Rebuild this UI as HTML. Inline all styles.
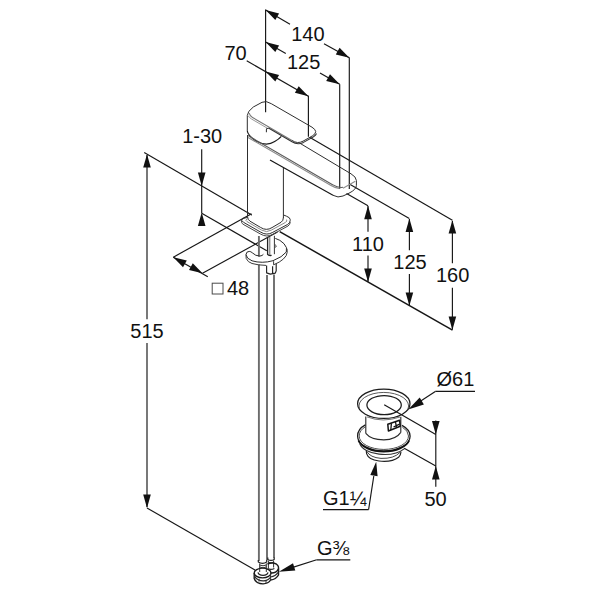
<!DOCTYPE html>
<html><head><meta charset="utf-8"><title>Faucet dimensions</title>
<style>
html,body{margin:0;padding:0;background:#fff;}
body{width:600px;height:600px;overflow:hidden;font-family:"Liberation Sans",sans-serif;}
svg{display:block;}
svg text{font-family:"Liberation Sans",sans-serif;fill:#111;}
svg path{stroke-linecap:butt;stroke-linejoin:round;}
</style></head><body>
<svg width="600" height="600" viewBox="0 0 600 600">
<rect width="600" height="600" fill="#fff"/>
<path d="M265.6 9.5L265.6 112.3" fill="none" stroke="#161616" stroke-width="1.15"/>
<path d="M349.3 57.5L349.3 189.0" fill="none" stroke="#161616" stroke-width="1.15"/>
<path d="M339.7 84.2L339.7 188.7" fill="none" stroke="#161616" stroke-width="1.15"/>
<path d="M308.4 95.8L308.4 136.7" fill="none" stroke="#161616" stroke-width="1.15"/>
<path d="M265.6 10.0L290.0 24.3" fill="none" stroke="#161616" stroke-width="1.15"/>
<path d="M265.6 10.0L279.1 13.4L275.3 20.0Z" fill="#111" stroke="none"/>
<path d="M324.0 43.7L349.3 57.8" fill="none" stroke="#161616" stroke-width="1.15"/>
<path d="M349.3 57.8L335.8 54.4L339.6 47.8Z" fill="#111" stroke="none"/>
<text x="291.2" y="40.8" font-size="20" text-anchor="start">140</text>
<path d="M265.6 42.0L285.8 53.5" fill="none" stroke="#161616" stroke-width="1.15"/>
<path d="M265.6 42.0L279.1 45.4L275.3 52.0Z" fill="#111" stroke="none"/>
<path d="M320.0 73.0L339.7 84.3" fill="none" stroke="#161616" stroke-width="1.15"/>
<path d="M339.7 84.3L326.2 80.9L330.0 74.3Z" fill="#111" stroke="none"/>
<text x="287.0" y="69.2" font-size="20" text-anchor="start">125</text>
<path d="M246.7 60.8L308.4 96.2" fill="none" stroke="#161616" stroke-width="1.15"/>
<path d="M265.6 71.6L279.1 75.0L275.3 81.6Z" fill="#111" stroke="none"/>
<path d="M308.4 96.2L294.9 92.8L298.7 86.2Z" fill="#111" stroke="none"/>
<text x="224.5" y="60.3" font-size="20" text-anchor="start">70</text>
<path d="M310.0 137.5L452.4 220.2" fill="none" stroke="#161616" stroke-width="1.15"/>
<path d="M349.3 184.0L409.3 218.6" fill="none" stroke="#161616" stroke-width="1.15"/>
<path d="M346.5 193.6L368.0 205.8" fill="none" stroke="#161616" stroke-width="1.15"/>
<path d="M279.7 231.6L452.5 330.2" fill="none" stroke="#161616" stroke-width="1.5"/>
<path d="M368.0 206.0L368.0 231.7" fill="none" stroke="#161616" stroke-width="1.15"/>
<path d="M368.0 255.5L368.0 281.8" fill="none" stroke="#161616" stroke-width="1.15"/>
<path d="M368.0 205.8L371.8 219.2L364.2 219.2Z" fill="#111" stroke="none"/>
<path d="M368.0 282.0L364.2 268.6L371.8 268.6Z" fill="#111" stroke="none"/>
<text x="368.0" y="250.8" font-size="20" text-anchor="middle">110</text>
<path d="M409.4 219.0L409.4 250.3" fill="none" stroke="#161616" stroke-width="1.15"/>
<path d="M409.4 274.0L409.4 305.5" fill="none" stroke="#161616" stroke-width="1.15"/>
<path d="M409.4 218.6L413.2 232.0L405.6 232.0Z" fill="#111" stroke="none"/>
<path d="M409.4 305.8L405.6 292.4L413.2 292.4Z" fill="#111" stroke="none"/>
<text x="410.0" y="269.0" font-size="20" text-anchor="middle">125</text>
<path d="M452.4 221.0L452.4 263.2" fill="none" stroke="#161616" stroke-width="1.15"/>
<path d="M452.4 287.7L452.4 329.5" fill="none" stroke="#161616" stroke-width="1.15"/>
<path d="M452.4 220.2L456.2 233.6L448.6 233.6Z" fill="#111" stroke="none"/>
<path d="M452.4 330.0L448.6 316.6L456.2 316.6Z" fill="#111" stroke="none"/>
<text x="452.6" y="281.8" font-size="20" text-anchor="middle">160</text>
<path d="M147.0 155.0L147.0 319.2" fill="none" stroke="#161616" stroke-width="1.15"/>
<path d="M147.0 343.0L147.0 507.0" fill="none" stroke="#161616" stroke-width="1.15"/>
<path d="M147.0 154.2L150.8 167.6L143.2 167.6Z" fill="#111" stroke="none"/>
<path d="M147.0 508.0L143.2 494.6L150.8 494.6Z" fill="#111" stroke="none"/>
<text x="147.0" y="338.3" font-size="20" text-anchor="middle">515</text>
<path d="M144.2 152.5L251.7 215.0" fill="none" stroke="#161616" stroke-width="1.15"/>
<path d="M147.0 508.0L255.0 570.0" fill="none" stroke="#161616" stroke-width="1.15"/>
<text x="182.2" y="143.3" font-size="20" text-anchor="start">1-30</text>
<path d="M201.7 149.2L201.7 213.0" fill="none" stroke="#161616" stroke-width="1.15"/>
<path d="M201.7 185.9L197.9 172.5L205.5 172.5Z" fill="#111" stroke="none"/>
<path d="M201.7 212.6L205.5 226.0L197.9 226.0Z" fill="#111" stroke="none"/>
<path d="M201.7 213.2L266.8 250.7" fill="none" stroke="#161616" stroke-width="1.15"/>
<path d="M251.5 213.8L173.3 257.2" fill="none" stroke="#161616" stroke-width="1.15"/>
<path d="M277.5 232.0L202.5 273.3" fill="none" stroke="#161616" stroke-width="1.15"/>
<path d="M173.3 257.2L207.8 276.8" fill="none" stroke="#161616" stroke-width="1.15"/>
<path d="M173.3 257.2L186.8 260.6L183.0 267.2Z" fill="#111" stroke="none"/>
<path d="M202.5 273.3L189.0 269.9L192.8 263.3Z" fill="#111" stroke="none"/>
<rect x="212.2" y="283.2" width="10.8" height="10.8" fill="none" stroke="#4a4a4a" stroke-width="1.0"/>
<text x="227.0" y="295.0" font-size="20" text-anchor="start">48</text>
<path d="M247.3 131 L247.3 115.5 Q247.3 111.5 253.3 107 L262 102.3 Q266 100.2 271.3 103.7 L312 127.2 Q319 131.6 312.7 135.7 L303 141.2 Q297.5 144.2 292 140.4" stroke="#2e2e2e" stroke-width="1.0" fill="none"/>
<path d="M249.2 113.2 Q249.8 116 252.5 117.4 L292 140.4" stroke="#777" stroke-width="1.1" fill="none"/>
<path d="M248.2 115.6 Q249 117.6 251.5 119 L267 128" stroke="#9a9a9a" stroke-width="1.0" fill="none"/>
<path d="M266.4 132.3 L266.4 129.8 Q266.5 128 268.9 128.2 L292 141.8 Q297.5 145.2 303.5 142.4 L313.5 136.8 Q316 135.2 316.5 133.5" stroke="#333" stroke-width="1.05" fill="none"/>
<path d="M247.3 131 Q247.8 135.5 256 141 Q266.5 146.8 274.7 141.6 Q279 139 281.3 136.3" stroke="#1a1a1a" stroke-width="1.2" fill="none"/>
<path d="M247.5 135.0L247.5 216.5" fill="none" stroke="#2e2e2e" stroke-width="1.0"/>
<path d="M283.4 167.2L283.4 218.0" fill="none" stroke="#2e2e2e" stroke-width="1.0"/>
<path d="M248 135.6 L333 184.9 Q338 188 343 187.3" stroke="#5a5a5a" stroke-width="1.1" fill="none"/>
<path d="M248 137.5 L331 185.6 Q335 188 339 188.4" stroke="#8c8c8c" stroke-width="1.1" fill="none"/>
<path d="M343 188.3 L355.3 181.3" stroke="#8c8c8c" stroke-width="1.1" fill="none"/>
<path d="M300 143.3 L351 173.8 Q356.2 176.8 356.4 180.5 L356.4 185.4 Q356.4 189.5 349 193.2 L343 196 Q338 198.2 333 195.3" stroke="#2e2e2e" stroke-width="1.0" fill="none"/>
<path d="M333 195.3 L270 160" stroke="#161616" stroke-width="1.2" fill="none"/>
<path d="M247.5 216.5 Q247.6 219.8 250 221.2 L260.5 227.4 Q266.3 231.2 272 227.6 L281 222.3 Q283.4 220.8 283.4 217.5" stroke="#2e2e2e" stroke-width="1.0" fill="none"/>
<path d="M247.0 212.3L251.7 215.0" fill="none" stroke="#2e2e2e" stroke-width="1.0"/>
<path d="M242.6 218.4 Q240.2 220.4 243.5 222.3 L260.8 232.2 Q266.8 235.9 272.8 232.3 L287.5 224.5 Q290.2 223 290.2 220.5 L290.2 219.5 Q290.2 217.6 286.5 216.2 L283.6 215" stroke="#2e2e2e" stroke-width="1.0" fill="none"/>
<path d="M247 219 Q244.8 220.4 247 221.6 L261.6 230.1 Q266.5 233.1 271.4 230.1 L285.5 222.4 Q287.6 221 286.5 219.6" stroke="#8a8a8a" stroke-width="1.0" fill="none"/>
<path d="M241.6 220.5 L241.6 222.2 Q241.7 223.6 244 224.8 L260.8 234.2 Q266.8 237.7 272.8 234.3 L288 226 Q290.2 224.6 290.2 222" stroke="#444" stroke-width="1.0" fill="none"/>
<path d="M247.5 217.5 L242.6 218.4" stroke="#2e2e2e" stroke-width="1.0" fill="none"/>
<path d="M258.9 236.0L258.9 256.6" fill="none" stroke="#6c6c6c" stroke-width="1.9"/>
<path d="M258.9 264.6L258.9 561.0" fill="none" stroke="#6c6c6c" stroke-width="1.9"/>
<path d="M267.0 275.0L267.0 560.0" fill="none" stroke="#6c6c6c" stroke-width="1.9"/>
<path d="M274.0 274.5L274.0 558.0" fill="none" stroke="#6c6c6c" stroke-width="1.9"/>
<path d="M267.6 237 L267.6 254.4 Q268.5 255.8 271.6 255.4" stroke="#222" stroke-width="1.3" fill="none"/>
<path d="M269.8 237.0L269.8 254.6" fill="none" stroke="#555" stroke-width="0.9"/>
<path d="M274.4 235.8L274.4 254.2" fill="none" stroke="#333" stroke-width="1.0"/>
<g transform="translate(0,-0.8)">
<path d="M246 255.5 Q246.2 252.2 249.2 252.2 Q251 252.3 252.3 253.6 Q255.5 256.8 259.7 256.9 Q262.5 256.6 263.4 255.1" stroke="#2a2a2a" stroke-width="1.0" fill="none"/>
<path d="M246 255.5 Q246.4 259.4 252 261.6 Q262 264.6 273 261.5 Q282.5 257.8 286.3 252.8 Q287.8 248.4 284 244.5 Q280 240.4 275.3 239.2" stroke="#2a2a2a" stroke-width="1.0" fill="none"/>
<path d="M246 255.5 L246.2 259.3 Q247.8 263 252 264.3 Q258 266 266 266.2 M273.6 262 L273.6 265.6 Q280 263 283.2 260 Q287.2 256.5 287.2 253 L287 249.5" stroke="#3a3a3a" stroke-width="1.0" fill="none"/>
<path d="M266.6 266.3 L266.6 273.7 L270.3 274.9 L275.3 273.9 L276.2 271.5 L276.2 264.6 M272.6 267 L272.6 274.2" stroke="#222" stroke-width="1.15" fill="none"/>
<path d="M275 245.4 L276.6 246.8 L275.2 248.4 Z" stroke="#555" stroke-width="0.8" fill="none"/>
</g>
<path d="M258.3 560 L258.3 562 Q262.5 564.6 266.7 562 L266.7 560" stroke="#222" stroke-width="1.2" fill="none"/>
<path d="M267.8 557.6 L267.8 559.4 Q271 561.4 274.2 559.4 L274.2 557.6" stroke="#222" stroke-width="1.2" fill="none"/>
<path d="M259.7 563.4 L259.7 572 M266.3 563.4 L266.3 572 M259.7 565 Q263 566.6 266.3 565 M259.7 567 Q263 568.6 266.3 567" stroke="#333" stroke-width="1.0" fill="none"/>
<path d="M268.4 560.6 L268.4 568 M273.6 560.6 L273.6 567.5 M268.4 562.2 Q271 563.4 273.6 562.2" stroke="#333" stroke-width="1.0" fill="none"/>
<ellipse cx="262.6" cy="573" rx="8.4" ry="4.9" fill="none" stroke="#1a1a1a" stroke-width="1.4"/>
<path d="M258 572.4 Q258.5 575.2 263 575.4 Q267.5 575.2 268 572.4" stroke="#222" stroke-width="1.2" fill="none"/>
<path d="M267.5 564 Q272.5 561.8 276.5 564.2 Q279.4 566.4 278.2 569.4 Q276 573.4 270.8 573" stroke="#1a1a1a" stroke-width="1.4" fill="none"/>
<path d="M267.6 568.6 Q270.8 570.2 274.4 568.4" stroke="#222" stroke-width="1.1" fill="none"/>
<path d="M254.2 573 L254.2 578.5 Q256 583.8 263 583.9 Q268.5 583.6 270.6 580 Q276 579.4 278.5 575 L278.6 568.4" stroke="#1a1a1a" stroke-width="1.4" fill="none"/>
<path d="M254.6 576.6 Q258 581.2 264 580.8 Q269 580.2 270.6 577 Q275.5 576.2 278.3 572.4" stroke="#2a2a2a" stroke-width="1.2" fill="none"/>
<path d="M259 581.6 L259 578.8 M266 583.2 L266 580.6 M270.6 573.4 L270.6 580" stroke="#333" stroke-width="1.0" fill="none"/>
<text x="317.0" y="555.0" font-size="20" text-anchor="start">G&#x215C;</text>
<path d="M316.7 559.8L350.3 559.8" fill="none" stroke="#161616" stroke-width="1.15"/>
<path d="M316.7 559.8L292.0 567.6" fill="none" stroke="#161616" stroke-width="1.15"/>
<path d="M278.9 571.7L293.0 563.3L295.3 570.5Z" fill="#111" stroke="none"/>
<ellipse cx="383.8" cy="403.8" rx="26.2" ry="14.7" fill="none" stroke="#1c1c1c" stroke-width="1.25"/>
<path d="M359.6 409 A24.8 13.6 0 1 1 408 409" stroke="#4a4a4a" stroke-width="0.9" fill="none"/>
<ellipse cx="384.1" cy="405.1" rx="17.2" ry="9.6" fill="none" stroke="#1c1c1c" stroke-width="1.25"/>
<path d="M365.8 416.5L365.8 433.4" fill="none" stroke="#262626" stroke-width="1.1"/>
<path d="M400.8 416.8L400.8 432.6" fill="none" stroke="#262626" stroke-width="1.1"/>
<path d="M365.8 433.4 Q371 439.8 383.8 439.9 Q396 439.6 400.8 432.4" stroke="#2a2a2a" stroke-width="1.1" fill="none"/>
<path d="M367 416.9 Q383 423 400 417" stroke="#666" stroke-width="0.9" fill="none"/>
<path d="M387.8 424.3 L399.6 420.3 L400.2 426.2 L388.4 431 Z" stroke="#111" stroke-width="1.5" fill="none"/>
<path d="M391.4 423.4 L390.8 430 M393.5 427 L399.6 424.2 M395.5 422 L396.5 427.5" stroke="#111" stroke-width="1.3" fill="none"/>
<path d="M365.4 424.8 Q357.4 429 357.6 436.2 A26.2 14.7 0 0 0 410.1 436.2 Q410 429.6 402 425.4" stroke="#1c1c1c" stroke-width="1.3" fill="none"/>
<path d="M365.6 426.6 Q359.2 430.4 359.2 436 A24.6 13.4 0 0 0 408.5 436 Q408.4 430.6 402.4 427.2" stroke="#444" stroke-width="0.95" fill="none"/>
<path d="M358.4 440.5 A26 14.2 0 0 0 409.2 440.5" stroke="#111" stroke-width="1.7" fill="none"/>
<path d="M359.8 443.8 A24.6 13 0 0 0 404.5 448.6" stroke="#333" stroke-width="1.1" fill="none"/>
<path d="M366.3 450.6 L366.6 453.6 Q368.5 459.8 379 461 Q392 462.4 398.6 457.2 Q400.8 455.2 401 451.8" stroke="#222" stroke-width="1.2" fill="none"/>
<path d="M367 451.6 Q370 457.4 381 458.4 Q394 458.8 400 452.4" stroke="#444" stroke-width="1.0" fill="none"/>
<path d="M384.2 404.7L435.8 434.4" fill="none" stroke="#161616" stroke-width="1.15"/>
<path d="M404.2 448.2L435.8 466.0" fill="none" stroke="#161616" stroke-width="1.15"/>
<path d="M435.8 420.5L435.8 486.8" fill="none" stroke="#161616" stroke-width="1.15"/>
<path d="M435.8 434.4L432.0 421.0L439.6 421.0Z" fill="#111" stroke="none"/>
<path d="M435.8 466.0L439.6 479.4L432.0 479.4Z" fill="#111" stroke="none"/>
<text x="424.5" y="505.7" font-size="20" text-anchor="start">50</text>
<text x="436.5" y="386.1" font-size="20" text-anchor="start">&#216;61</text>
<path d="M435.3 391.4L475.0 391.4" fill="none" stroke="#161616" stroke-width="1.15"/>
<path d="M435.3 391.4L420.0 401.6" fill="none" stroke="#161616" stroke-width="1.15"/>
<path d="M408.2 409.4L419.7 397.6L423.9 404.4Z" fill="#111" stroke="none"/>
<text x="323.0" y="505.0" font-size="20" text-anchor="start">G1&#188;</text>
<path d="M323.0 509.6L368.6 509.6" fill="none" stroke="#161616" stroke-width="1.15"/>
<path d="M368.6 509.6L373.8 476.0" fill="none" stroke="#161616" stroke-width="1.15"/>
<path d="M376.2 461.8L377.6 476.2L370.3 475.0Z" fill="#111" stroke="none"/>
</svg>
</body></html>
